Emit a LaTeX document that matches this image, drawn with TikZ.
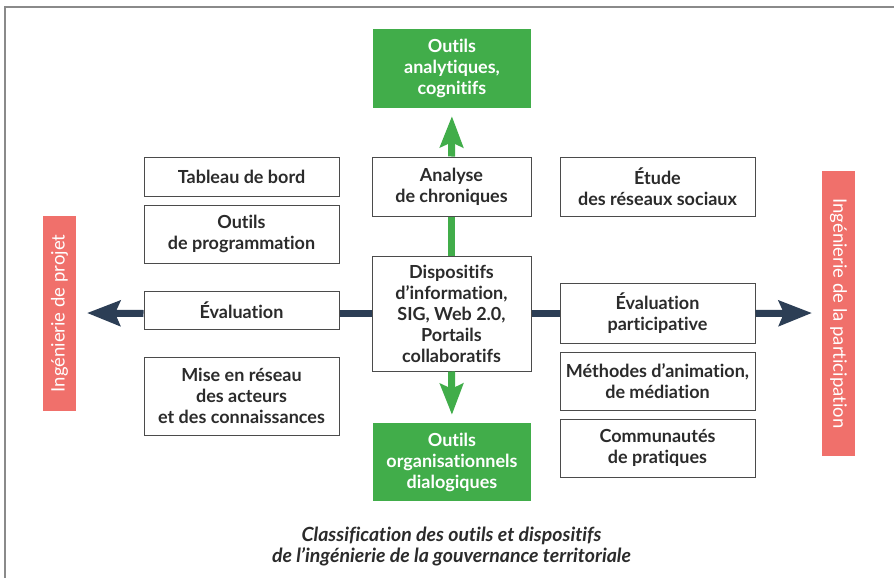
\documentclass[tikz,border=0pt]{standalone}
\usepackage{fontspec}
\setmainfont{Lato}[Ligatures=NoCommon]
\usetikzlibrary{arrows.meta,calc}
\definecolor{gr}{HTML}{41AD4A}
\definecolor{pk}{HTML}{F0706B}
\definecolor{dk}{HTML}{2C3E55}
\definecolor{txt}{HTML}{2B2B2B}
\definecolor{frm}{HTML}{8A8A8A}
\tikzset{
  box/.style={draw=txt!85, line width=1pt, fill=white, rectangle, align=center, text=txt, font=\fontsize{18}{21}\selectfont\bfseries, inner sep=0pt},
  gbox/.style={fill=gr, rectangle, align=center, text=white, font=\fontsize{18}{21}\selectfont\bfseries, inner sep=0pt},
  pbox/.style={fill=pk, rectangle, text=white, font=\fontsize{18.5}{21}\selectfont, inner sep=0pt},
  dkline/.style={draw=dk, line width=7pt},
  grline/.style={draw=gr, line width=7pt},
  dktip/.style={-{Stealth[length=33pt,width=25pt,inset=5pt]}},
  grtip/.style={-{Stealth[length=31pt,width=23pt,inset=5pt]}},
}
\begin{document}
\begin{tikzpicture}[x=1pt,y=-1pt]
\useasboundingbox (0,0) rectangle (894,578);
\fill[white] (0,0) rectangle (894,578);
\draw[frm, line width=1.3pt] (5,600) -- (5,7) -- (910,7);
% left column
\node[box, minimum width=195pt, minimum height=39pt] (tab) at (241.5,176.5) {Tableau de bord};
\node[box, minimum width=195pt, minimum height=58pt] (prog) at (241.5,234) {Outils\\de programmation};
\node[box, minimum width=195pt, minimum height=38pt] (eval) at (241.5,310) {Évaluation};
\node[box, minimum width=195pt, minimum height=78pt] (mise) at (241.5,396) {Mise en réseau\\des acteurs\\et des connaissances};
% centre column
\node[gbox, minimum width=158pt, minimum height=79pt] (gtop) at (452,68.5) {Outils\\analytiques,\\cognitifs};
\node[box, minimum width=159pt, minimum height=59pt] (ana) at (451.5,186.5) {Analyse\\de chroniques};
\node[box, minimum width=159pt, minimum height=115pt] (disp) at (451.5,313.5) {Dispositifs\\d’information,\\SIG, Web 2.0,\\Portails\\collaboratifs};
\node[gbox, minimum width=158pt, minimum height=78pt] (gbot) at (452,462) {Outils\\organisationnels\\dialogiques};
% right column
\node[box, minimum width=195pt, minimum height=59pt] (etu) at (657.5,186.5) {Étude\\des réseaux sociaux};
\node[box, minimum width=195pt, minimum height=60pt] (evp) at (657.5,313) {Évaluation\\participative};
\node[box, minimum width=195pt, minimum height=58pt] (meth) at (657.5,381) {Méthodes d’animation,\\de médiation};
\node[box, minimum width=195pt, minimum height=58pt] (comm) at (657.5,448) {Communautés\\de pratiques};
% pink bars
\node[pbox, minimum width=195pt, minimum height=33pt, rotate=90] (ingp) at (59.5,313.5) {Ingénierie de projet};
\node[pbox, minimum width=285pt, minimum height=33pt, rotate=-90] (ingpa) at (838.5,313.5) {Ingénierie de la participation};
% arrows
\coordinate (ltip) at (87,313);
\coordinate (rtip) at (812,313);
\draw[dkline] (disp.west) -- (disp.west -| eval.east);
\draw[dkline, dktip] (disp.west -| eval.west) -- (ltip);
\draw[dkline] (disp.east) -- (disp.east -| evp.west);
\draw[dkline, dktip] (disp.east -| evp.east) -- (rtip);
\draw[grline] (disp.north) -- (ana.south);
\draw[grline, grtip, shorten >=8pt] (ana.north) -- (gtop.south);
\draw[grline, grtip, shorten >=8pt] (disp.south) -- (gbot.north);
% caption
\node[text=txt, align=center, font=\fontsize{19.5}{21}\selectfont\bfseries\itshape] (cap) at (451.5,546) {Classification des outils et dispositifs\\de l’ingénierie de la gouvernance territoriale};
\end{tikzpicture}
\end{document}
